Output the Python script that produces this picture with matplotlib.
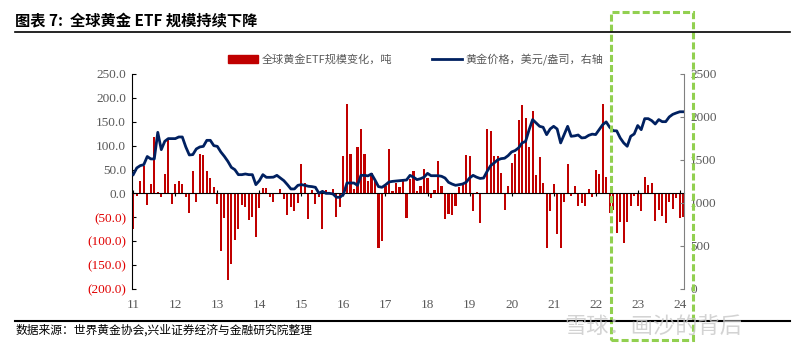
import matplotlib
matplotlib.use("Agg")
import matplotlib.pyplot as plt
import numpy as np
from matplotlib.patches import Rectangle, Patch
from matplotlib.lines import Line2D

plt.rcParams['font.family'] = ['Noto Sans CJK SC', 'DejaVu Sans']

# 月度数据: 2011-01 ~ 2024-02
years = ["11", "12", "13", "14", "15", "16", "17", "18", "19", "20", "21", "22", "23", "24"]

etf_flow = [
    -75, -5, 27, 58, -25, 20, 118, 3, -8, 40, 111, -22,          # 2011
    20, 27, 20, -7, -41, 46, -17, 82, 80, 47, 32, 13,            # 2012
    -23, -120, -52, -181, -148, -97, -75, -24, -28, -56, -50, -91,  # 2013
    -30, 12, 12, -8, -17, 1, 9, -12, -46, -29, -37, -20,         # 2014
    61, 22, -54, 8, -22, -8, -75, 7, -2, 10, -50, -29,           # 2015
    78, 188, 82, 9, 98, 134, 82, 25, 42, 25, -114, -100,         # 2016
    16, 92, 5, 21, 14, 30, -52, 30, 47, 4, 15, 51,               # 2017
    32, -10, 7, 67, 16, -54, -43, -45, -27, 14, 17, 80,          # 2018
    79, -36, 2, -61, -2, 135, 130, 79, 79, 42, -34, 15,          # 2019
    64, 83, 153, 184, 157, 97, 173, 39, 76, 22, -115, -36,       # 2020
    20, -84, -115, -18, 62, -6, 15, -26, -20, -27, 9, -8,        # 2021
    48, 41, 188, 35, -40, -34, -83, -59, -104, -60, -27, -6,     # 2022
    -27, -36, 34, 17, 21, -57, -34, -48, -61, -17, -32, -10,     # 2023
    -52, -50,                                                    # 2024
]

gold_price = [
    1330, 1407, 1434, 1445, 1540, 1512, 1512, 1821, 1620, 1717, 1748, 1748,
    1748, 1767, 1767, 1651, 1558, 1562, 1628, 1651, 1658, 1728, 1728, 1666,
    1658, 1593, 1542, 1484, 1414, 1387, 1329, 1329, 1337, 1329, 1329, 1213,
    1259, 1329, 1298, 1298, 1300, 1321, 1290, 1259, 1213, 1163, 1163, 1205,
    1213, 1205, 1194, 1190, 1182, 1112, 1135, 1112, 1112, 1105, 1066, 1066,
    1100, 1232, 1232, 1232, 1205, 1321, 1321, 1315, 1337, 1267, 1190, 1182,
    1210, 1244, 1251, 1255, 1259, 1262, 1267, 1321, 1300, 1271, 1282, 1300,
    1344, 1317, 1317, 1317, 1310, 1290, 1240, 1220, 1205, 1213, 1220, 1240,
    1290, 1321, 1300, 1285, 1290, 1367, 1433, 1465, 1500, 1515, 1520, 1550,
    1593, 1609, 1640, 1698, 1716, 1852, 1969, 1930, 1891, 1880, 1794, 1860,
    1891, 1860, 1698, 1794, 1891, 1775, 1780, 1790, 1756, 1760, 1786, 1800,
    1795, 1852, 1910, 1942, 1880, 1840, 1838, 1756, 1698, 1659, 1775, 1802,
    1900, 1852, 1980, 1980, 1957, 1918, 1969, 1945, 1945, 2000, 2030, 2046,
    2060, 2060,
]

left_ticks = [-200, -150, -100, -50, 0, 50, 100, 150, 200, 250]
right_ticks = [0, 500, 1000, 1500, 2000, 2500]

n = len(etf_flow)
x = np.arange(n)
serif = "Liberation Serif"
grey = "#595959"

fig = plt.figure(figsize=(8, 3.52), dpi=100)
ax = fig.add_axes([0.1646, 0.179, 0.691, 0.611])

ax.bar(x, etf_flow, width=0.6, color="#C00000", zorder=2)
ax.set_xlim(-0.45, n - 0.65)
ax.set_ylim(-200, 250)

# 左轴
ax.set_yticks(left_ticks)
ax.set_yticklabels([f"{v:.1f}" if v >= 0 else f"({-v:.1f})" for v in left_ticks],
                   fontfamily=serif, fontsize=9.5)
for lab, v in zip(ax.get_yticklabels(), left_ticks):
    lab.set_color(grey if v >= 0 else "#E00000")
ax.tick_params(axis='y', direction='in', length=3, color='black', pad=4)
ax.spines['left'].set_color('black')
ax.spines['top'].set_visible(False)
ax.spines['right'].set_visible(False)

# 零轴 + 年份刻度
ax.spines['bottom'].set_position(('data', 0))
ax.spines['bottom'].set_color('black')
ax.spines['bottom'].set_zorder(3)
ax.set_xticks(np.arange(0, n, 12))
ax.tick_params(axis='x', direction='inout', length=4, color='black', labelbottom=False)

sec = ax.secondary_xaxis(0)
sec.set_xticks(np.arange(0, n, 12))
sec.set_xticklabels(years, fontfamily=serif, fontsize=9.5, color=grey)
sec.tick_params(length=0, pad=7)
sec.spines['bottom'].set_visible(False)

# 右轴: 金价
ax2 = ax.twinx()
ax2.plot(x, gold_price, color="#002060", lw=2)
ax2.set_ylim(0, 2500)
ax2.set_yticks(right_ticks)
ax2.set_yticklabels([str(v) for v in right_ticks], fontfamily=serif, fontsize=9.5, color=grey)
ax2.tick_params(axis='y', direction='in', length=3, color='#808080', pad=4)
for s in ['left', 'top', 'bottom']:
    ax2.spines[s].set_visible(False)
ax2.spines['right'].set_color('#808080')

# 图例
handles = [Patch(color="#C00000"), Line2D([], [], color="#002060", lw=2)]
labels = ["全球黄金ETF规模变化，吨", "黄金价格，美元/盎司，右轴"]
fig.legend(handles, labels, loc='center', bbox_to_anchor=(0.52, 0.832), ncol=2,
           frameon=False, fontsize=8, labelcolor=grey, handlelength=2.7,
           handletextpad=0.3, columnspacing=3.6)

# 标题与来源
fig.text(0.019, 0.94, "图表 7:  全球黄金 ETF 规模持续下降", fontsize=11,
         fontweight='bold', va='center', ha='left')
fig.add_artist(Line2D([0.019, 0.988], [0.909, 0.909], color='black', lw=1.2,
                      transform=fig.transFigure))
fig.add_artist(Line2D([0.019, 0.988], [0.088, 0.088], color='black', lw=1.5,
                      transform=fig.transFigure))
fig.text(0.019, 0.062, "数据来源：世界黄金协会,兴业证券经济与金融研究院整理", fontsize=8.5,
         va='center', ha='left')

# 水印
fig.text(0.705, 0.07, "雪球：画沙的背后", fontsize=16, color='#c8c8c8', alpha=0.8,
         va='center', ha='left')

# 绿色虚线框
fig.add_artist(Rectangle((0.764, 0.034), 0.102, 0.932, fill=False, edgecolor='#92D050',
                         lw=2.2, linestyle=(0, (2.3, 1.0)), transform=fig.transFigure))

fig.savefig("out.png", dpi=100)
